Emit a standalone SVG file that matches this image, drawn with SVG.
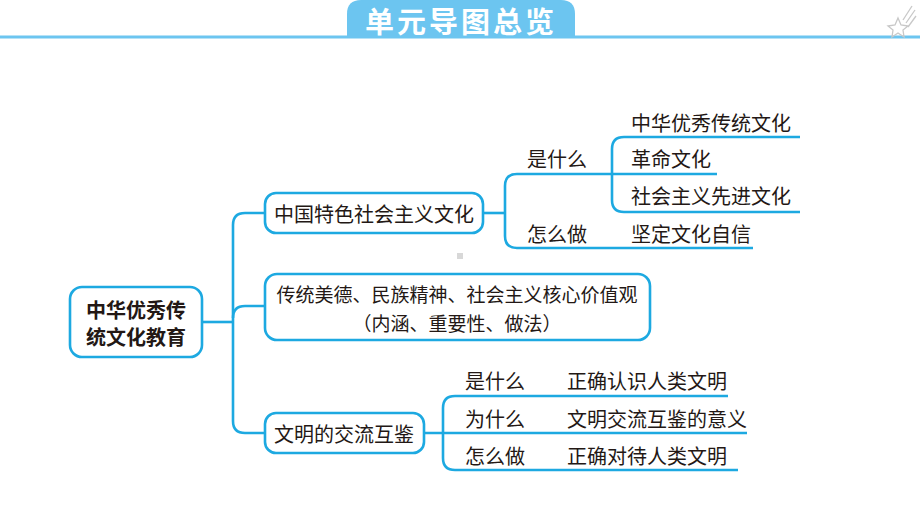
<svg xmlns="http://www.w3.org/2000/svg" width="920" height="518" viewBox="0 0 920 518">
<style>
.t{font-family:"Noto Sans CJK SC","Noto Sans",sans-serif;font-size:20px;fill:#231815;dominant-baseline:central}
.c{text-anchor:middle}
.b{font-weight:bold}
.s{font-size:19px}
.box{fill:#fff;stroke:#1DA9E1;stroke-width:2.6}
.ln{fill:none;stroke:#1DA9E1;stroke-width:2.6}
</style>
<rect width="920" height="518" fill="#fff"/>
<g id="header">
<line x1="0" y1="37" x2="920" y2="37" stroke="#6CC5F0" stroke-width="3"/>
<path d="M347 37 V14 Q347 0 361 0 H561 Q575 0 575 14 V37 Z" fill="#6CC5F0"/>
<text x="461" y="20" text-anchor="middle" font-family="Noto Sans CJK SC,sans-serif" font-size="29" font-weight="bold" fill="#fff" letter-spacing="3" dominant-baseline="central">单元导图总览</text>
<g fill="none" stroke="#c8c8c8" stroke-width="1.3">
<polygon points="898,18 901,25 908,26 903,30 904,37 898,33 892,37 893,30 888,26 895,25"/>
<line x1="903" y1="20" x2="912" y2="6"/>
<line x1="906" y1="23" x2="915" y2="10"/>
<line x1="908" y1="27" x2="916" y2="16"/>
</g>
</g>
<rect x="457" y="253" width="6" height="6" fill="#d8d8d8"/>
<g id="connectors">
<path class="ln" d="M202 322 H233"/>
<path class="ln" d="M265 213 H245 Q233 213 233 225 V421 Q233 433 245 433 H265"/>
<path class="ln" d="M233 318 Q233 306 245 306 H265"/>
<path class="ln" d="M483 213 H505"/>
<path class="ln" d="M717 174 H517 Q505 174 505 186 V236 Q505 248 517 248 H753"/>
<path class="ln" d="M800 137 H624 Q612 137 612 149 V200 Q612 212 624 212 H800"/>
<path class="ln" d="M424 433 H747"/>
<path class="ln" d="M728 396 H455 Q443 396 443 408 V458 Q443 470 455 470 H738"/>
</g>
<g id="root">
<rect class="box" x="70" y="287" width="132" height="70" rx="12"/>
<text class="t c b" x="136" y="309">中华优秀传</text>
<text class="t c b" x="136" y="336">统文化教育</text>
</g>
<g id="n1">
<rect class="box" x="265" y="193" width="218" height="40" rx="11"/>
<text class="t c" x="374" y="213">中国特色社会主义文化</text>
</g>
<g id="n2">
<rect class="box" x="265" y="274" width="385" height="66" rx="12"/>
<text class="t c s" x="457" y="293">传统美德、民族精神、社会主义核心价值观</text>
<text class="t c s" x="457" y="322">（内涵、重要性、做法）</text>
</g>
<g id="n3">
<rect class="box" x="265" y="413" width="159" height="40" rx="11"/>
<text class="t c" x="344" y="433">文明的交流互鉴</text>
</g>
<g id="n1a"><text class="t" x="527" y="158">是什么</text></g>
<g id="n1b"><text class="t" x="527" y="233">怎么做</text></g>
<g id="n1a1"><text class="t" x="631" y="122">中华优秀传统文化</text></g>
<g id="n1a2"><text class="t" x="631" y="158">革命文化</text></g>
<g id="n1a3"><text class="t" x="631" y="195">社会主义先进文化</text></g>
<g id="n1b1"><text class="t" x="631" y="233">坚定文化自信</text></g>
<g id="n3a"><text class="t" x="465" y="380">是什么</text></g>
<g id="n3b"><text class="t" x="465" y="418">为什么</text></g>
<g id="n3c"><text class="t" x="465" y="455">怎么做</text></g>
<g id="n3a1"><text class="t" x="567" y="380">正确认识人类文明</text></g>
<g id="n3b1"><text class="t" x="567" y="418">文明交流互鉴的意义</text></g>
<g id="n3c1"><text class="t" x="567" y="455">正确对待人类文明</text></g>
</svg>
